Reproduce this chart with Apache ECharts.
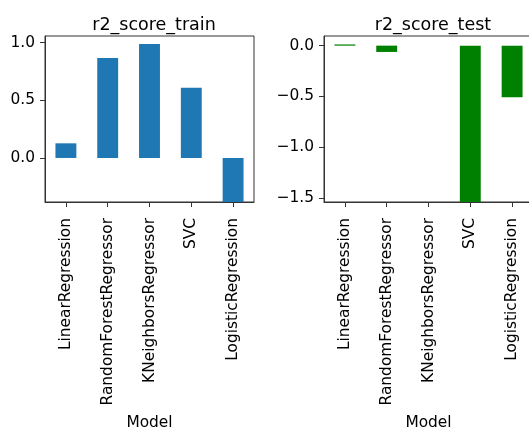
<!DOCTYPE html>
<html>
<head>
<meta charset="utf-8">
<script src="https://cdn.jsdelivr.net/npm/echarts@6/dist/echarts.min.js"></script>
<style>
  html, body { margin: 0; padding: 0; background: #fff; }
  #chart { width: 529px; height: 427px; }
</style>
</head>
<body>
<div id="chart"></div>
<script>
// Model names shared by both panels
const models = ['LinearRegression', 'RandomForestRegressor', 'KNeighborsRegressor', 'SVC', 'LogisticRegression'];

// R² scores per model
const r2Train = [0.127, 0.867, 0.989, 0.61, -0.40];
const r2Test = [0.012, -0.062, null, -1.60, -0.508];

// Tick values and axis limits for each panel
const trainTicks = [0, 0.5, 1.0];
const testTicks = [0, -0.5, -1.0, -1.5];
const trainLimits = [-0.382, 1.058];
const testLimits = [-1.54, 0.095];

const FONT = 'DejaVu Sans';
const fmt = v => v.toFixed(1).replace('-', '\u2212');

function xAxisFor(gridIndex) {
  return {
    type: 'category',
    gridIndex,
    data: models,
    name: 'Model',
    nameLocation: 'middle',
    nameGap: 213,
    nameTextStyle: { fontFamily: FONT, fontSize: 15.4, color: '#000' },
    axisLine: { show: true, onZero: false, lineStyle: { color: '#333', width: 1 } },
    axisTick: { show: true, alignWithLabel: true, length: 5, lineStyle: { color: '#333' } },
    axisLabel: { rotate: 90, margin: 16, interval: 0, fontFamily: FONT, fontSize: 15.4, color: '#000' },
    splitLine: { show: false }
  };
}

function yAxisFor(gridIndex, limits, ticks) {
  return {
    type: 'value',
    gridIndex,
    min: limits[0],
    max: limits[1],
    axisLine: { show: true, lineStyle: { color: '#333', width: 1 } },
    axisTick: { show: true, length: 5, customValues: ticks, lineStyle: { color: '#333' } },
    axisLabel: { margin: 10, customValues: ticks, formatter: fmt, fontFamily: FONT, fontSize: 15.4, color: '#000' },
    splitLine: { show: false }
  };
}

const chart = echarts.init(document.getElementById('chart'), null, { renderer: 'canvas' });
chart.setOption({
  animation: false,
  backgroundColor: '#fff',
  title: [
    { text: 'r2_score_train', left: 149, top: 11, textAlign: 'center',
      textStyle: { fontFamily: FONT, fontSize: 17.5, fontWeight: 'normal', color: '#000' } },
    { text: 'r2_score_test', left: 428, top: 11, textAlign: 'center',
      textStyle: { fontFamily: FONT, fontSize: 17.5, fontWeight: 'normal', color: '#000' } }
  ],
  grid: [
    { left: 45, top: 36, width: 209, height: 166, show: true, borderColor: '#333', borderWidth: 1,
      backgroundColor: 'transparent', containLabel: false, outerBoundsMode: 'none' },
    { left: 324, top: 36, width: 209, height: 166, show: true, borderColor: '#333', borderWidth: 1,
      backgroundColor: 'transparent', containLabel: false, outerBoundsMode: 'none' }
  ],
  xAxis: [xAxisFor(0), xAxisFor(1)],
  yAxis: [yAxisFor(0, trainLimits, trainTicks), yAxisFor(1, testLimits, testTicks)],
  series: [
    { type: 'bar', xAxisIndex: 0, yAxisIndex: 0, data: r2Train, barWidth: '50%', clip: true,
      itemStyle: { color: '#1f77b4' } },
    { type: 'bar', xAxisIndex: 1, yAxisIndex: 1, data: r2Test, barWidth: '50%', clip: true,
      itemStyle: { color: '#008000' } }
  ]
});
</script>
</body>
</html>
